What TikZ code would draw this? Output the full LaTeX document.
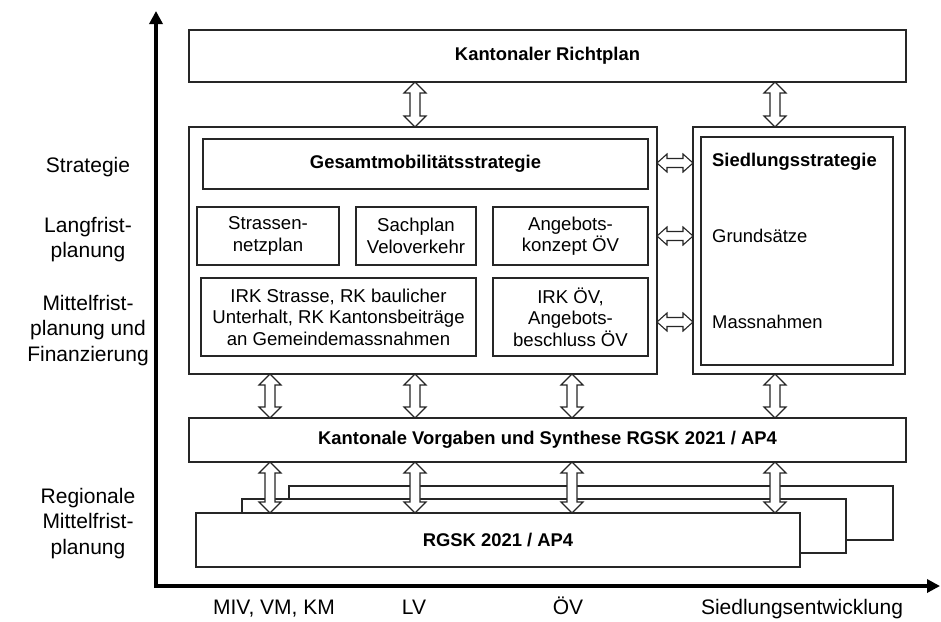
\documentclass[tikz,border=0pt]{standalone}
\usepackage{fontspec}
\setmainfont{Liberation Sans}
\usetikzlibrary{arrows.meta,calc}
\tikzset{
  box/.style={draw=black!85, line width=1.3pt, fill=white, inner sep=0pt, outer sep=0pt,
    anchor=north west, align=center, font=\fontsize{18.6}{21.5}\selectfont},
  boldbox/.style={box, font=\fontsize{18.4}{21.5}\selectfont\bfseries},
  darr/.style={draw=black!85, fill=white, line width=1.1pt, line join=miter},
  axisline/.style={line width=3.5pt, line join=miter,
    {Triangle[length=13pt,width=13pt]}-{Triangle[length=13pt,width=13pt]}},
  axlab/.style={align=center, font=\fontsize{21}{25.5}\selectfont, inner sep=0pt},
  sitext/.style={anchor=west, inner sep=0pt, font=\fontsize{18.4}{21.5}\selectfont},
}
% hollow double arrow, vertical: #1 upper end, #2 lower end
\newcommand\darrV[2]{\path[darr] let \p1=(#1), \p2=(#2) in
  (\x1,\y1) -- (\x1+11pt,\y1-11pt) -- (\x1+5pt,\y1-11pt) -- (\x1+5pt,\y2+11pt)
  -- (\x1+11pt,\y2+11pt) -- (\x1,\y2) -- (\x1-11pt,\y2+11pt) -- (\x1-5pt,\y2+11pt)
  -- (\x1-5pt,\y1-11pt) -- (\x1-11pt,\y1-11pt) -- cycle;}
% hollow double arrow, horizontal: #1 left end, #2 right end
\newcommand\darrH[2]{\path[darr] let \p1=(#1), \p2=(#2) in
  (\x1,\y1) -- (\x1+10pt,\y1+9pt) -- (\x1+10pt,\y1+4.5pt) -- (\x2-10pt,\y1+4.5pt)
  -- (\x2-10pt,\y1+9pt) -- (\x2,\y1) -- (\x2-10pt,\y1-9pt) -- (\x2-10pt,\y1-4.5pt)
  -- (\x1+10pt,\y1-4.5pt) -- (\x1+10pt,\y1-9pt) -- cycle;}
\begin{document}
\begin{tikzpicture}[x=1pt,y=-1pt]
\fill[white] (0,0) rectangle (941,621);
\useasboundingbox (0,0) rectangle (941,621);

% axes
\coordinate (Ytop) at (156,11);
\coordinate (O) at (156,586);
\coordinate (Xend) at (940,586);
\draw[axisline] (Ytop) -- (O) -- (Xend);

% axis labels
\node[axlab, anchor=base] (lstrat) at (88,172) {Strategie};
\node[axlab, anchor=north] (llang) at (88,216.7) {Langfrist-\\planung};
\node[axlab, anchor=north] (lmittel) at (88,294.7) {Mittelfrist-\\planung und\\Finanzierung};
\node[axlab, anchor=north] (lreg) at (88,487.7) {Regionale\\Mittelfrist-\\planung};

\node[axlab, anchor=base] (bmiv) at (274,614) {MIV, VM, KM};
\node[axlab, anchor=base] (blv) at (414,614) {LV};
\node[axlab, anchor=base] (bov) at (568,614) {ÖV};
\node[axlab, anchor=base] (bsied) at (802,614) {Siedlungsentwicklung};

% boxes
\node[boldbox, minimum width=717pt, minimum height=52pt] (rp) at (189,30) {Kantonaler Richtplan};
\node[box, minimum width=468pt, minimum height=247pt] (gm) at (189,127) {};
\node[boldbox, minimum width=445pt, minimum height=50pt] (gms) at (203,139) {Gesamtmobilitätsstrategie};
\node[box, minimum width=142pt, minimum height=58pt] (str) at (197,207) {Strassen-\\netzplan};
\node[box, minimum width=120pt, minimum height=58pt] (vel) at (356,207) {Sachplan\\Veloverkehr};
\node[box, minimum width=155pt, minimum height=58pt] (ang) at (493,207) {Angebots-\\konzept ÖV};
\node[box, minimum width=275pt, minimum height=78pt] (irk) at (201,278) {IRK Strasse, RK baulicher\\Unterhalt, RK Kantonsbeiträge\\an Gemeindemassnahmen};
\node[box, minimum width=155pt, minimum height=78pt] (irkov) at (493,278) {IRK ÖV,\\Angebots-\\beschluss ÖV};

\node[box, minimum width=212pt, minimum height=247pt] (so) at (693,127) {};
\node[box, minimum width=192pt, minimum height=228pt] (si) at (701,137) {};
\node[sitext, font=\fontsize{18.4}{21.5}\selectfont\bfseries] (sst) at (712,162) {Siedlungsstrategie};
\node[sitext] (sgr) at (712,236) {Grundsätze};
\node[sitext] (sma) at (712,322) {Massnahmen};

\node[boldbox, minimum width=717pt, minimum height=44pt] (kv) at (189,418) {Kantonale Vorgaben und Synthese RGSK 2021 / AP4};

\node[box, minimum width=604pt, minimum height=54pt] (rg3) at (289,486) {};
\node[box, minimum width=604pt, minimum height=54pt] (rg2) at (242,499) {};
\node[boldbox, minimum width=604pt, minimum height=54pt] (rg1) at (196,513) {RGSK 2021 / AP4};

% arrow columns and rows
\coordinate (c1) at (270,0);
\coordinate (c2) at (415,0);
\coordinate (c3) at (572,0);
\coordinate (c4) at (775,0);
\coordinate (r1) at (0,163);
\coordinate (r2) at (0,236);
\coordinate (r3) at (0,322);

\darrV{rp.south -| c2}{gm.north -| c2}
\darrV{rp.south -| c4}{so.north -| c4}

\darrV{gm.south -| c1}{kv.north -| c1}
\darrV{gm.south -| c2}{kv.north -| c2}
\darrV{gm.south -| c3}{kv.north -| c3}
\darrV{so.south -| c4}{kv.north -| c4}

\darrV{kv.south -| c1}{rg1.north -| c1}
\darrV{kv.south -| c2}{rg1.north -| c2}
\darrV{kv.south -| c3}{rg1.north -| c3}
\darrV{kv.south -| c4}{rg1.north -| c4}

\darrH{gm.east |- r1}{so.west |- r1}
\darrH{gm.east |- r2}{so.west |- r2}
\darrH{gm.east |- r3}{so.west |- r3}
\end{tikzpicture}
\end{document}
